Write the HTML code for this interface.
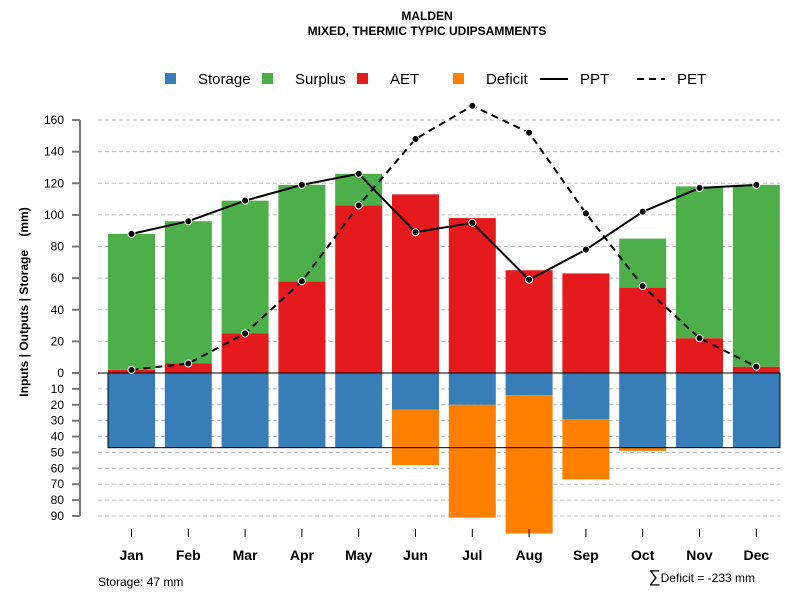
<!DOCTYPE html>
<html><head><meta charset="utf-8"><style>
body{margin:0;background:#fff;font-family:"Liberation Sans",Arial,sans-serif}
svg{display:block}
</style></head><body>
<svg id="c" width="800" height="600" xmlns="http://www.w3.org/2000/svg" font-family="Liberation Sans, Arial, sans-serif"></svg>
<script>
const months=["Jan","Feb","Mar","Apr","May","Jun","Jul","Aug","Sep","Oct","Nov","Dec"];
const ppt=[88,96,109,119,126,89,95,59,78,102,117,119];
const pet=[2,6,25,58,106,148,169,152,101,55,22,4];
const aet=[2,6,25,58,106,113,98,65,63,54,22,4];
const surplus=[86,90,84,61,20,0,0,0,0,31,96,115];
const storage=[47,47,47,47,47,23,20,14,29,47,47,47];
const deficit=[0,0,0,0,0,35,71,87,38,2,0,0];
const upTicks=[0,20,40,60,80,100,120,140,160];
const downTicks=[10,20,30,40,50,60,70,80,90];
const capacity=47;

const svg=document.getElementById('c');
const NS='http://www.w3.org/2000/svg';
const Y0=373,KU=1.581,KD=1.589;
const y=v=>v>=0?Y0-v*KU:Y0-v*KD;
const x=i=>131.5+i*56.8;
const BW=47;
function el(t,a,p){const e=document.createElementNS(NS,t);for(const k in a)e.setAttribute(k,a[k]);(p||svg).appendChild(e);return e;}
function tx(s,a){const e=el('text',a);e.textContent=s;return e;}

let t=tx('MALDEN',{x:427,y:20,'text-anchor':'middle','font-size':12,'font-weight':'bold'});


t=tx('MIXED, THERMIC TYPIC UDIPSAMMENTS',{x:427,y:35,'text-anchor':'middle','font-size':12,'font-weight':'bold'});



upTicks.forEach(v=>{if(v>0){const g=el('line',{x1:98,x2:780,y1:y(v),y2:y(v),stroke:'#bbb','stroke-dasharray':'4,3'});}});
downTicks.forEach(v=>{const g=el('line',{x1:98,x2:780,y1:y(-v),y2:y(-v),stroke:'#bbb','stroke-dasharray':'4,3'});});

months.forEach((m,i)=>{
  const l=x(i)-BW/2;
  let r;
  r=el('rect',{x:l,y:y(aet[i]),width:BW,height:Y0-y(aet[i]),fill:'#e41a1c'});
  
  
  if(surplus[i]>0){r=el('rect',{x:l,y:y(aet[i]+surplus[i]),width:BW,height:y(aet[i])-y(aet[i]+surplus[i]),fill:'#4daf4a'});
  
  }
  r=el('rect',{x:l,y:Y0,width:BW,height:y(-storage[i])-Y0,fill:'#377eb8'});
  
  
  if(deficit[i]>0){r=el('rect',{x:l,y:y(-storage[i]),width:BW,height:y(-storage[i]-deficit[i])-y(-storage[i]),fill:'#ff7f00'});
  
  }
});
let o=el('rect',{x:108,y:Y0,width:672,height:y(-capacity)-Y0,fill:'none',stroke:'#000','stroke-width':1});


o=el('line',{x1:98,x2:780,y1:Y0,y2:Y0,stroke:'#000'});



function series(d,dash,name){
  const p=el('polyline',{points:d.map((v,i)=>x(i)+','+y(v)).join(' '),fill:'none',stroke:'#000','stroke-width':2,'stroke-dasharray':dash});
  
  
  d.forEach((v,i)=>{const c=el('circle',{cx:x(i),cy:y(v),r:3.5,fill:'#000',stroke:'#fff','stroke-width':1});
  
  });
}
series(ppt,'none','ppt');
series(pet,'7,5','pet');

o=el('line',{x1:80,x2:80,y1:y(160),y2:y(-90),stroke:'#777','stroke-width':2});


upTicks.forEach(v=>{el('line',{x1:72,x2:80,y1:y(v),y2:y(v),stroke:'#777','stroke-width':2});
  const l=tx(String(v),{x:64,y:y(v)+4,'text-anchor':'end','font-size':12});});
downTicks.forEach(v=>{el('line',{x1:72,x2:80,y1:y(-v),y2:y(-v),stroke:'#777','stroke-width':2});
  const l=tx(String(v),{x:64,y:y(-v)+4,'text-anchor':'end','font-size':12});});
t=tx('Inputs | Outputs | Storage    (mm)',{x:0,y:0,'text-anchor':'middle','font-size':12,'font-weight':'bold','xml:space':'preserve',style:'white-space:pre',transform:'translate(28,302) rotate(-90)'});



months.forEach((m,i)=>{el('line',{x1:x(i),x2:x(i),y1:529,y2:537,stroke:'#000'});
  const l=tx(m,{x:x(i),y:560,'text-anchor':'middle','font-size':14,'font-weight':'bold'});
  });

t=tx('Storage: 47 mm',{x:98,y:586,'font-size':12});


t=el('text',{x:755,y:582,'text-anchor':'end','font-size':12});
t.innerHTML='<tspan font-size="17">∑</tspan>Deficit = -233 mm';



const leg=[['rect','#377eb8','Storage',165],['rect','#4daf4a','Surplus',262],['rect','#e41a1c','AET',357],['rect','#ff7f00','Deficit',453],['line','none','PPT',540],['line','7,5','PET',637]];
leg.forEach(d=>{
  const g=el('g',{});
  
  
  if(d[0]==='rect')el('rect',{x:d[3],y:73,width:11,height:11,fill:d[1]},g);
  else el('line',{x1:d[3],x2:d[3]+28,y1:79,y2:79,stroke:'#000','stroke-width':2,'stroke-dasharray':d[1]},g);
  const l=el('text',{x:d[0]==='rect'?d[3]+33:d[3]+40,y:84,'font-size':15},g);l.textContent=d[2];
});
</script>
</body></html>
